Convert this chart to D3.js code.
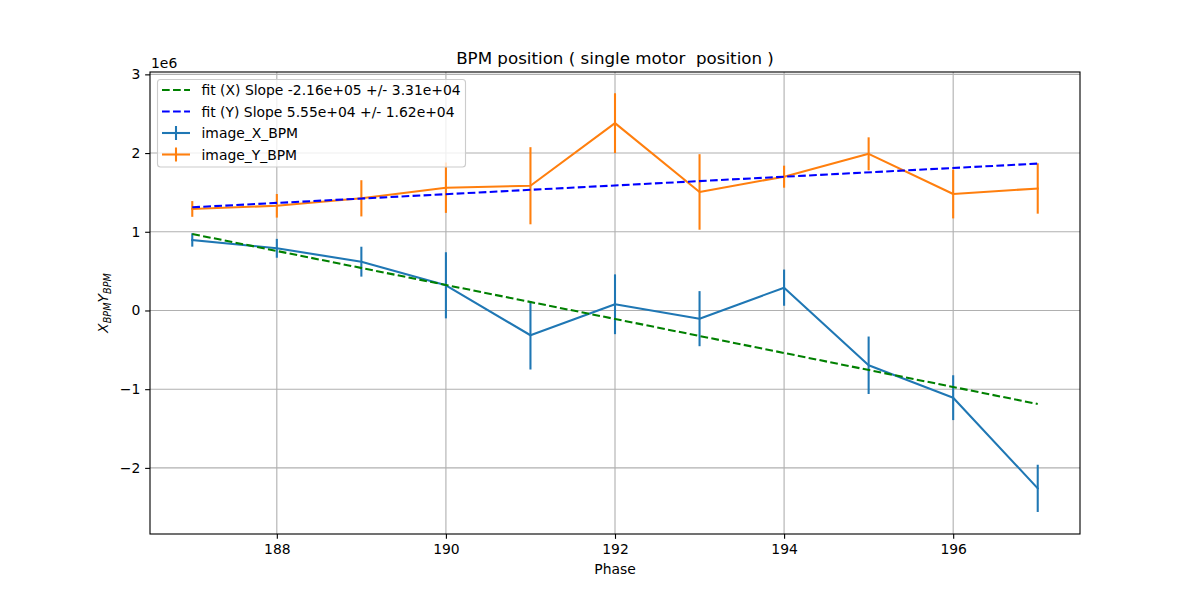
<!DOCTYPE html>
<html>
<head>
<meta charset="utf-8">
<script src="https://cdn.jsdelivr.net/npm/d3@7"></script>
<style>
  body { margin: 0; background: #fff; }
  text { font-family: "DejaVu Sans", sans-serif; }
</style>
</head>
<body>
<svg id="chart" width="1200" height="600"></svg>
<script>
// ---- data ----
const phase = [187, 188, 189, 190, 191, 192, 193, 194, 195, 196, 197];
const xBpm = [0.896e6, 0.79e6, 0.62e6, 0.32e6, -0.315e6, 0.079e6, -0.104e6, 0.29e6, -0.696e6, -1.108e6, -2.26e6];
const xErr = [0.085e6, 0.12e6, 0.19e6, 0.42e6, 0.435e6, 0.38e6, 0.35e6, 0.23e6, 0.365e6, 0.285e6, 0.30e6];
const yBpm = [1.29e6, 1.33e6, 1.425e6, 1.56e6, 1.585e6, 2.38e6, 1.506e6, 1.70e6, 1.99e6, 1.48e6, 1.55e6];
const yErr = [0.10e6, 0.15e6, 0.23e6, 0.32e6, 0.49e6, 0.38e6, 0.48e6, 0.14e6, 0.21e6, 0.31e6, 0.32e6];
const fitPhase = [187, 197];
const fitX = [0.972e6, -1.188e6];
const fitY = [1.311e6, 1.866e6];
const xTicks = [188, 190, 192, 194, 196];
const yTicks = [-2e6, -1e6, 0, 1e6, 2e6, 3e6];
const yTickLabels = ["\u22122", "\u22121", "0", "1", "2", "3"];
const legendLabels = ["fit (X) Slope -2.16e+05 +/- 3.31e+04", "fit (Y) Slope 5.55e+04 +/- 1.62e+04", "image_X_BPM", "image_Y_BPM"];

// ---- layout ----
const L = 150, R = 1080, T = 72, B = 534;
const LW = 2.08, THIN = 1.11, DASH = "7.7,3.33";
const svg = d3.select("#chart");
svg.append("rect").attr("width", 1200).attr("height", 600).attr("fill", "#fff");

const x = d3.scaleLinear().domain([186.5, 197.5]).range([L, R]);
const y = d3.scaleLinear().domain([-2.84e6, 3.03e6]).range([B, T]);

// grid
const grid = svg.append("g");
grid.selectAll(".gx").data(xTicks).enter().append("line")
  .attr("x1", d => x(d)).attr("x2", d => x(d)).attr("y1", T).attr("y2", B)
  .attr("stroke", "#b0b0b0").attr("stroke-width", THIN);
grid.selectAll(".gy").data(yTicks).enter().append("line")
  .attr("x1", L).attr("x2", R).attr("y1", d => y(d)).attr("y2", d => y(d))
  .attr("stroke", "#b0b0b0").attr("stroke-width", THIN);

// axes
const xAxis = d3.axisBottom(x).tickValues(xTicks).tickSize(4.86).tickPadding(4.86).tickFormat(d3.format("d"));
const yAxis = d3.axisLeft(y).tickValues(yTicks).tickSize(4.86).tickPadding(4.86).tickFormat((d, i) => yTickLabels[i]);
const gx = svg.append("g").attr("transform", `translate(0,${B})`).call(xAxis);
const gy = svg.append("g").attr("transform", `translate(${L},0)`).call(yAxis);
[gx, gy].forEach(g => {
  g.select(".domain").remove();
  g.selectAll(".tick line").attr("stroke", "#000").attr("stroke-width", THIN);
  g.selectAll(".tick text").attr("fill", "#000").attr("font-size", "13.9px").attr("font-family", "DejaVu Sans");
});

// data layer clipped
svg.append("clipPath").attr("id", "clip").append("rect").attr("x", L).attr("y", T).attr("width", R - L).attr("height", B - T);
const plot = svg.append("g").attr("clip-path", "url(#clip)");

const line = d3.line().x(d => x(d[0])).y(d => y(d[1]));

function errSeries(vals, errs, color) {
  const pts = phase.map((p, i) => [p, vals[i]]);
  plot.selectAll(null).data(phase).enter().append("line")
    .attr("x1", d => x(d)).attr("x2", d => x(d))
    .attr("y1", (d, i) => y(vals[i] - errs[i])).attr("y2", (d, i) => y(vals[i] + errs[i]))
    .attr("stroke", color).attr("stroke-width", LW);
  plot.append("path").attr("d", line(pts)).attr("fill", "none")
    .attr("stroke", color).attr("stroke-width", LW).attr("stroke-linejoin", "round").attr("stroke-linecap", "square");
}
errSeries(xBpm, xErr, "#1f77b4");
errSeries(yBpm, yErr, "#ff7f0e");

function fitLine(vals, color) {
  plot.append("path").attr("d", line(fitPhase.map((p, i) => [p, vals[i]])))
    .attr("fill", "none").attr("stroke", color).attr("stroke-width", LW)
    .attr("stroke-dasharray", DASH);
}
fitLine(fitX, "#008000");
fitLine(fitY, "#0000ff");

// spines
svg.append("rect").attr("x", L).attr("y", T).attr("width", R - L).attr("height", B - T)
  .attr("fill", "none").attr("stroke", "#000").attr("stroke-width", THIN);

// offset label
svg.append("text").attr("x", 151).attr("y", 67.5).attr("font-size", "13.9px").text("1e6");

// title
svg.append("text").attr("x", 615).attr("y", 64).attr("text-anchor", "middle")
  .attr("font-size", "16.7px").style("white-space", "pre").text("BPM position ( single motor  position )");

// x label
svg.append("text").attr("x", 615).attr("y", 573.5).attr("text-anchor", "middle")
  .attr("font-size", "13.9px").text("Phase");

// y label (mathtext-like)
const yl = svg.append("text").attr("transform", "translate(108,303) rotate(-90)")
  .attr("text-anchor", "middle").attr("font-size", "13.9px").attr("font-style", "italic");
yl.append("tspan").text("X");
yl.append("tspan").attr("font-size", "9.7px").attr("dy", 2.5).text("BPM");
yl.append("tspan").attr("dy", -2.5).text("Y");
yl.append("tspan").attr("font-size", "9.7px").attr("dy", 2.5).text("BPM");

// legend
const lg = svg.append("g");
lg.append("rect").attr("x", 157.5).attr("y", 79.5).attr("width", 308).attr("height", 87.5)
  .attr("rx", 3).attr("fill", "#fff").attr("fill-opacity", 0.8).attr("stroke", "#cccccc").attr("stroke-width", THIN);
const rows = [90, 111.5, 133, 154.5];
const legColors = ["#008000", "#0000ff", "#1f77b4", "#ff7f0e"];
legendLabels.forEach((lab, i) => {
  const cy = rows[i];
  const h = lg.append("line").attr("x1", 162).attr("x2", 190).attr("y1", cy).attr("y2", cy)
    .attr("stroke", legColors[i]).attr("stroke-width", LW);
  if (i < 2) h.attr("stroke-dasharray", DASH);
  else lg.append("line").attr("x1", 176).attr("x2", 176).attr("y1", cy - 7).attr("y2", cy + 7)
    .attr("stroke", legColors[i]).attr("stroke-width", LW);
  lg.append("text").attr("x", 201.5).attr("y", cy + 5).attr("font-size", "13.9px").text(lab);
});
</script>
</body>
</html>
